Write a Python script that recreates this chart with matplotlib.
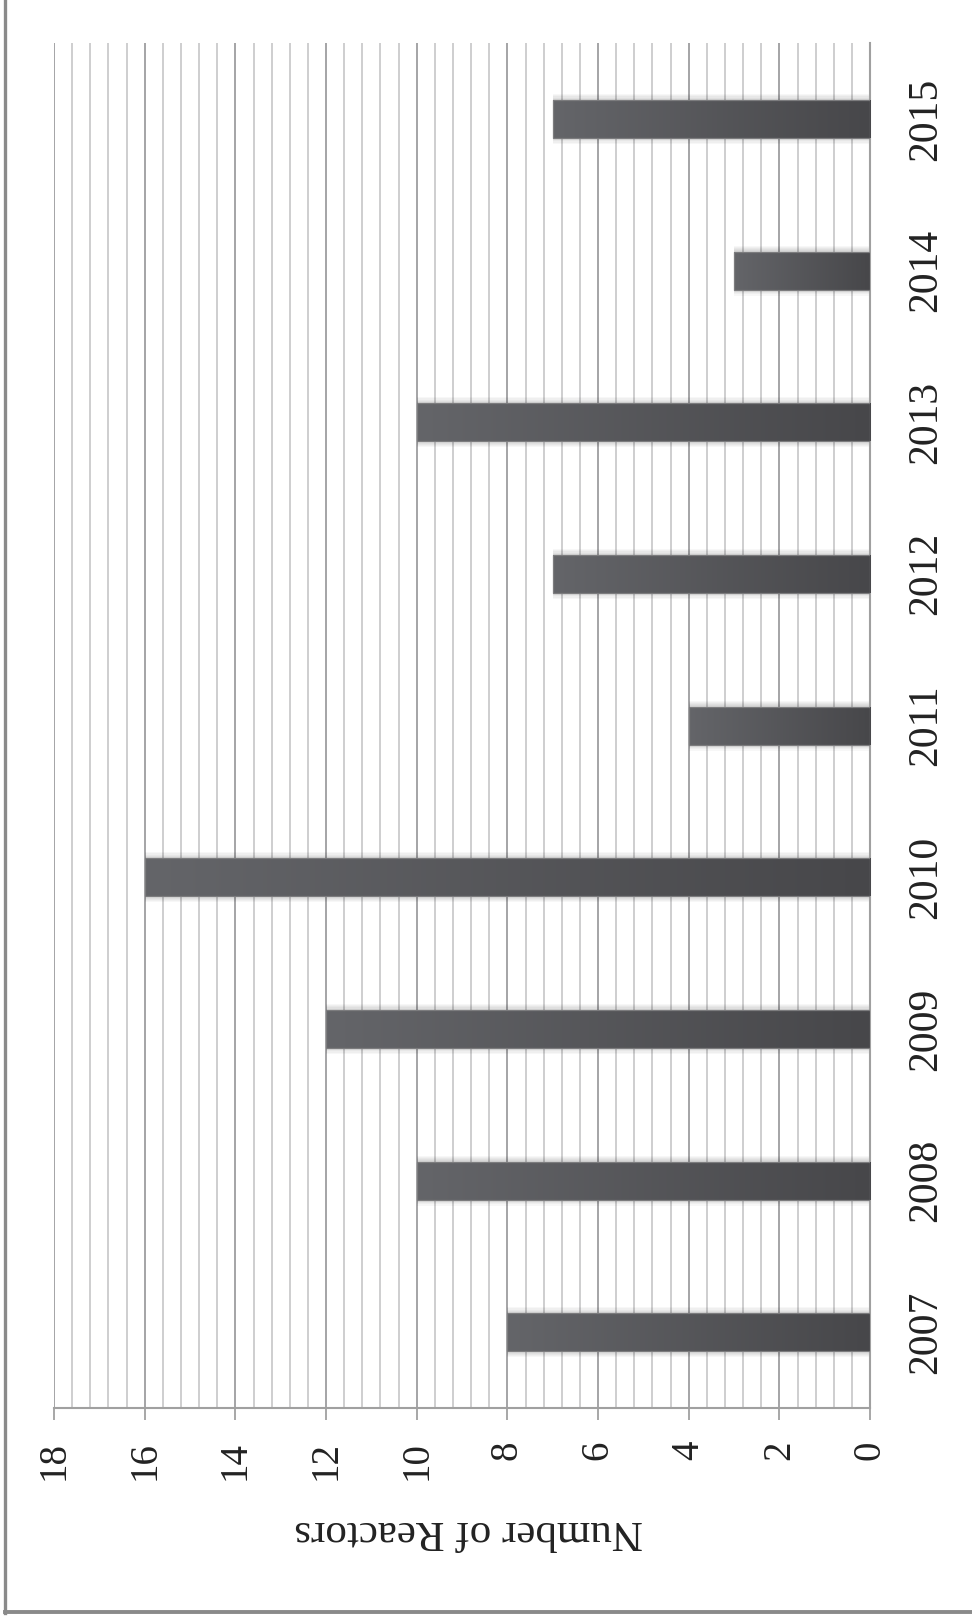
import matplotlib.pyplot as plt
import numpy as np
from matplotlib.colors import LinearSegmentedColormap
from matplotlib.lines import Line2D

plt.rcParams['font.family'] = ['Liberation Serif', 'DejaVu Serif']

# data
years = ['2007', '2008', '2009', '2010', '2011', '2012', '2013', '2014', '2015']
reactors = [8, 10, 12, 16, 4, 7, 10, 3, 7]
value_ticks = [0, 2, 4, 6, 8, 10, 12, 14, 16, 18]

fig = plt.figure(figsize=(9.72, 16.19), dpi=100)
ax = fig.add_axes([0.0556, 0.1303, 0.8395, 0.8431])

pos = np.arange(len(years))
bar_h = 0.25

# soft shadow around bars
for k in range(1, 6):
    ax.barh(pos, reactors, height=bar_h + 0.016 * k, color='black', alpha=0.03,
            linewidth=0, zorder=2.5)

# bar outlines, gradient fill below
bars = ax.barh(pos, reactors, height=bar_h, facecolor='none', edgecolor='#7c7c7e',
               linewidth=0.9, zorder=4)
cmap = LinearSegmentedColormap.from_list('bar', ['#47474a', '#646569'])
grad = np.linspace(0, 1, 256).reshape(1, -1)
for b, v in zip(bars, reactors):
    y0 = b.get_y()
    ax.imshow(grad, cmap=cmap, aspect='auto', extent=(0, v, y0, y0 + bar_h),
              zorder=3, interpolation='bicubic')

ax.set_xlim(18, 0)
ax.set_ylim(-0.5, len(years) - 0.5)

# grid lines
ax.set_xticks(value_ticks)
ax.set_xticks(np.arange(0, 18.01, 0.4), minor=True)
ax.grid(True, axis='x', which='minor', color='#cacacc', linewidth=1.3, zorder=1)
ax.grid(True, axis='x', which='major', color='#9d9d9f', linewidth=1.3, zorder=1)
ax.set_axisbelow(True)

for s in ['top', 'left']:
    ax.spines[s].set_visible(False)
ax.spines['bottom'].set_color('#a0a0a0')
ax.spines['bottom'].set_linewidth(1.5)
ax.spines['right'].set_color('#a0a0a0')
ax.spines['right'].set_linewidth(1.5)

ax.set_xticklabels([str(t) for t in value_ticks], rotation=90, fontsize=28, color='#222222')
ax.tick_params(axis='x', which='major', length=8.6, width=1.3, color='#a0a0a0', pad=15)
ax.tick_params(axis='x', which='minor', length=0)

ax.yaxis.tick_right()
ax.set_yticks(pos)
ax.set_yticklabels(years, rotation=90, va='center', fontsize=30, color='#222222')
ax.tick_params(axis='y', length=0, pad=26)

fig.text(0.4825, 0.0544, 'Number of Reactors', rotation=180, ha='center', va='center',
         fontsize=31, color='#222222')

# page border (left and bottom)
fig.add_artist(Line2D([0.0052, 0.0052], [0.004, 1.0], color='#8a8a8a', linewidth=2.4))
fig.add_artist(Line2D([0.0052, 1.0], [0.0045, 0.0045], color='#8a8a8a', linewidth=2.8))

plt.savefig('out.png', dpi=100)
